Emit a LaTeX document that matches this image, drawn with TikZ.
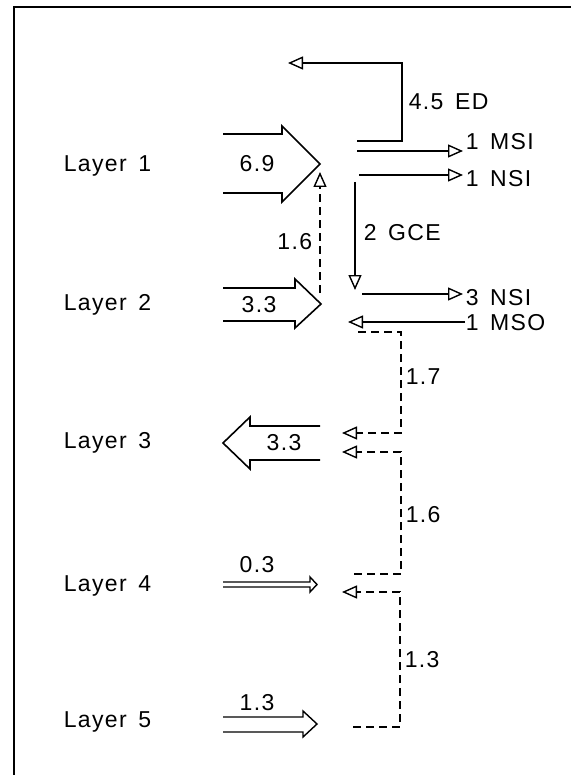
\documentclass[tikz,border=0pt]{standalone}
\usepackage{fontspec}
\setmainfont{Liberation Sans}[LetterSpace=6]
\usetikzlibrary{arrows.meta}
\begin{document}
\begin{tikzpicture}[x=1pt,y=-1pt,line width=1.6pt,
  lbl/.style={font=\fontsize{23}{25}\selectfont, inner sep=0pt},
  flow/.style={-{Triangle[open,length=15pt,width=13pt,line width=1.4pt]}},
  dsh/.style={dash pattern=on 8pt off 5pt},
  bigarrow/.style={line width=1.6pt,line join=miter}]
\useasboundingbox (0,0) rectangle (571,775);
% frame
\draw (14,775) -- (14,7) -- (571,7);
% layer labels
\node[lbl,anchor=west] (L1) at (63,166) {Layer\, 1};
\node[lbl,anchor=west] (L2) at (63,305) {Layer\, 2};
\node[lbl,anchor=west] (L3) at (63,443) {Layer\, 3};
\node[lbl,anchor=west] (L4) at (63,586) {Layer\, 4};
\node[lbl,anchor=west] (L5) at (63,722) {Layer\, 5};
% big arrows
\draw[bigarrow] (223,134) -- (282,134) -- (282,126) -- (320,164) -- (282,202) -- (282,193) -- (223,193);
\node[lbl] (v69) at (257,164) {6.9};
\draw[bigarrow] (223,288) -- (295,288) -- (295,279) -- (321,304) -- (295,328) -- (295,321) -- (223,321);
\node[lbl] (v33a) at (259,305) {3.3};
\draw[bigarrow] (320,426) -- (250,426) -- (250,417) -- (223,443) -- (250,469) -- (250,460) -- (320,460);
\node[lbl] (v33b) at (284,443) {3.3};
\draw[line width=1.4pt,line join=miter] (223,582) -- (310,582) -- (310,577) -- (317,584.5) -- (310,592) -- (310,587) -- (223,587);
\node[lbl] (v03) at (257,565) {0.3};
\draw[line width=1.4pt,line join=miter] (223,717) -- (303,717) -- (303,711) -- (317,724) -- (303,737) -- (303,732) -- (223,732);
\node[lbl] (v13) at (257,703) {1.3};
% ED
\coordinate (edS) at (357,141);
\coordinate (edC) at (402,141);
\coordinate (edE) at (288,63);
\draw[flow] (edS) -- (edC) |- (edE);
\node[lbl,anchor=west] (ed) at (408,102) {4.5\, ED};
% MSI
\coordinate (msiS) at (357,151);
\coordinate (msiE) at (463,151);
\draw[flow] (msiS) -- (msiE);
\node[lbl,anchor=west] (msi) at (465,142) {1\, MSI};
% NSI 1
\coordinate (nsiaS) at (359,175);
\coordinate (nsiaE) at (463,175);
\draw[flow] (nsiaS) -- (nsiaE);
\node[lbl,anchor=west] (nsia) at (465,179) {1\, NSI};
% GCE
\coordinate (gceS) at (355,182);
\coordinate (gceE) at (355,290);
\draw[flow] (gceS) -- (gceE);
\node[lbl,anchor=west] (gce) at (363,233) {2\, GCE};
% dashed 1.6 up
\coordinate (upS) at (320,293);
\coordinate (upE) at (320,172);
\draw[flow,dsh] (upS) -- (upE);
\node[lbl,anchor=east] (u16) at (313,242) {1.6};
% NSI 3
\coordinate (nsibS) at (362,294);
\coordinate (nsibE) at (463,294);
\draw[flow] (nsibS) -- (nsibE);
\node[lbl,anchor=west] (nsib) at (465,298) {3\, NSI};
% MSO
\node[lbl,anchor=west] (mso) at (465,323) {1\, MSO};
\coordinate (msoE) at (348,322);
\draw[flow] (mso.west |- msoE) -- (msoE);
% dashed 1.7
\coordinate (d1S) at (358,332);
\coordinate (d1C) at (401,332);
\coordinate (d1E) at (342,433);
\draw[flow,dsh] (d1S) -- (d1C) |- (d1E);
\node[lbl,anchor=west] (d17) at (405,377) {1.7};
% dashed 1.6
\coordinate (d2S) at (354,574);
\coordinate (d2C) at (401,574);
\coordinate (d2E) at (342,452);
\draw[flow,dsh] (d2S) -- (d2C) |- (d2E);
\node[lbl,anchor=west] (d16) at (405,515) {1.6};
% dashed 1.3
\coordinate (d3S) at (353,727);
\coordinate (d3C) at (400,727);
\coordinate (d3E) at (342,592);
\draw[flow,dsh] (d3S) -- (d3C) |- (d3E);
\node[lbl,anchor=west] (d13) at (404,660) {1.3};
\end{tikzpicture}
\end{document}
